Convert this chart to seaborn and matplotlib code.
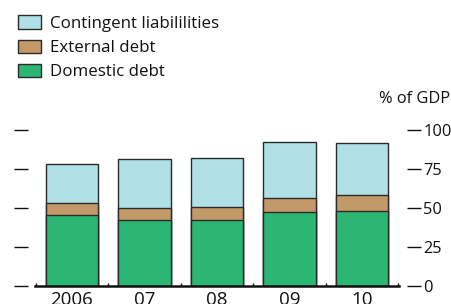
import matplotlib
matplotlib.use("Agg")
import matplotlib.pyplot as plt
import seaborn as sns
import pandas as pd
import numpy as np
from matplotlib.patches import Patch
from matplotlib.ticker import FixedLocator

years = ["2006", "07", "08", "09", "10"]
domestic = [45.3, 42.3, 42.1, 47.0, 48.1]
external = [7.9, 7.3, 8.5, 9.4, 9.8]
contingent = [25.0, 31.6, 31.3, 35.7, 33.8]

sns.set_style("white")
plt.rcParams["font.family"] = ["Open Sans", "DejaVu Sans"]

c_dom = "#2cb673"
c_ext = "#c4996a"
c_con = "#b0e0e6"
edge = "#2a2a2a"

df = pd.DataFrame({"year": years, "dom": domestic, "ext": external, "con": contingent})
df["l2"] = df["dom"] + df["ext"]
df["l3"] = df["l2"] + df["con"]

fig = plt.figure(figsize=(4.51, 3.04), dpi=100)
ax = fig.add_axes([35/451, 1-285.7/304, 364/451, 156/304])

for col, color in [("l3", c_con), ("l2", c_ext), ("dom", c_dom)]:
    sns.barplot(data=df, x="year", y=col, color=color, width=0.72,
                edgecolor=edge, linewidth=1.0, saturation=1, ax=ax)

ax.set_xlim(-0.51, 4.51)
ax.set_ylim(0, 100)
ax.set_xlabel("")
ax.set_ylabel("")

ax.spines["top"].set_visible(False)
ax.spines["bottom"].set_linewidth(1.8)
ax.spines["bottom"].set_color("#111111")
ax.spines["left"].set_position(("outward", 5))
ax.spines["left"].set_color("none")
ax.spines["right"].set_position(("outward", 6))
ax.spines["right"].set_color("none")

yt = [0, 25, 50, 75, 100]
ax.set_yticks(yt)
ax.tick_params(axis="y", which="major", left=True, right=True, labelleft=False,
               labelright=True, direction="out", length=10, width=1.0,
               color="#111111", pad=1.5, labelsize=11.8, labelcolor="#111111")
ax.tick_params(axis="x", which="major", length=0, pad=4, labelsize=13.5, labelcolor="#111111")
ax.xaxis.set_minor_locator(FixedLocator([-0.5, 0.5, 1.5, 2.5, 3.5, 4.5]))
ax.tick_params(axis="x", which="minor", direction="in", length=2.5, width=1.0,
               color="#111111", bottom=True)

fig.text(450/451, 1-99/304, "% of GDP", ha="right", va="center",
         fontsize=11.8, color="#111111")

handles = [Patch(facecolor=c_con, edgecolor=edge, linewidth=1.0, label="Contingent liabililities"),
           Patch(facecolor=c_ext, edgecolor=edge, linewidth=1.0, label="External debt"),
           Patch(facecolor=c_dom, edgecolor=edge, linewidth=1.0, label="Domestic debt")]
fig.legend(handles=handles, loc="upper left", bbox_to_anchor=(18/451, 1-15.5/304),
           frameon=False, fontsize=12.2, handlelength=1.36, handleheight=0.83,
           handletextpad=0.53, labelspacing=0.45, borderaxespad=0, borderpad=0,
           labelcolor="#111111")

fig.savefig("out.png", dpi=100)
